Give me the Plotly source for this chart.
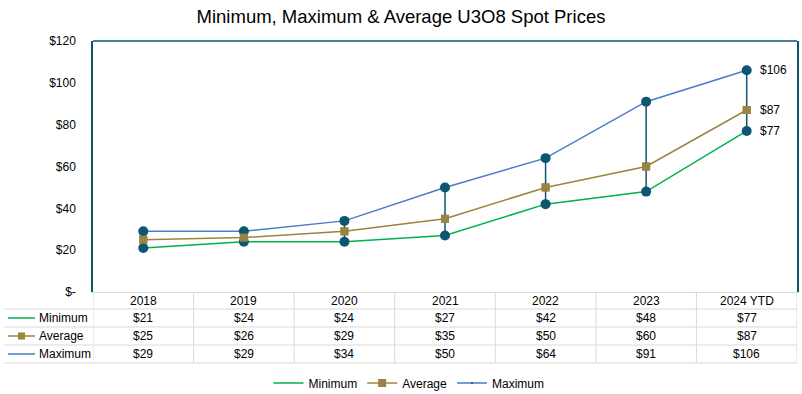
import plotly.graph_objects as go

categories = ["2018", "2019", "2020", "2021", "2022", "2023", "2024 YTD"]
minimum = [21, 24, 24, 27, 42, 48, 77]
average = [25, 26, 29, 35, 50, 60, 87]
maximum = [29, 29, 34, 50, 64, 91, 106]
y_ticks = [0, 20, 40, 60, 80, 100, 120]
y_ticktext = ["$-", "$20", "$40", "$60", "$80", "$100", "$120"]

FONT = "Liberation Sans, Arial, sans-serif"
TEAL = "#0c5672"
GREEN = "#00b050"
OLIVE = "#9b8341"
BLUE = "#4a7cc7"
GRID = "#d9d9d9"

W, H = 802, 394
L, R, T, B = 93, 5, 41, 102
PW = W - L - R
PH = H - T - B
BOTTOM = H - B


def px_x(px):
    return (px - L) / PW


def px_y(py):
    return (BOTTOM - py) / PH


xs = list(range(len(categories)))
fig = go.Figure()

# series lines (legend entries)
fig.add_trace(go.Scatter(x=xs, y=minimum, name="Minimum", mode="lines",
                         line=dict(color=GREEN, width=1.5)))
fig.add_trace(go.Scatter(x=xs, y=average, name="Average", mode="lines+markers",
                         line=dict(color=OLIVE, width=1.5),
                         marker=dict(symbol="square", size=8, color=OLIVE)))
fig.add_trace(go.Scatter(x=xs, y=maximum, name="Maximum", mode="lines+markers",
                         line=dict(color=BLUE, width=1.5),
                         marker=dict(symbol="circle", size=2, color=TEAL)))

# high-low lines
hx, hy = [], []
for i, (lo, hi) in enumerate(zip(minimum, maximum)):
    hx += [i, i, None]
    hy += [lo, hi, None]
fig.add_trace(go.Scatter(x=hx, y=hy, mode="lines", showlegend=False,
                         line=dict(color=TEAL, width=1.5), hoverinfo="skip"))

# high / low markers
fig.add_trace(go.Scatter(x=xs, y=minimum, mode="markers", showlegend=False,
                         marker=dict(symbol="circle", size=10, color=TEAL)))
fig.add_trace(go.Scatter(x=xs, y=maximum, mode="markers", showlegend=False,
                         marker=dict(symbol="circle", size=10, color=TEAL)))
fig.add_trace(go.Scatter(x=xs, y=average, mode="markers", showlegend=False,
                         marker=dict(symbol="square", size=8, color=OLIVE)))

shapes = []
annotations = []

# data labels on the last point
last = len(categories) - 1
for series in (maximum, average, minimum):
    annotations.append(dict(x=last, y=series[last], xref="x", yref="y",
                            text=f"${series[last]}", showarrow=False,
                            xanchor="left", yanchor="middle", xshift=11,
                            font=dict(family=FONT, size=12, color="#000")))

# plot area border: top (teal)
shapes.append(dict(type="line", xref="paper", yref="paper", x0=0, x1=1, y0=1, y1=1,
                   line=dict(color=TEAL, width=1.5)))

# data table grid
row_lines = [309, 327, 345, 363]
for py in row_lines:
    shapes.append(dict(type="line", xref="paper", yref="paper",
                       x0=px_x(4), x1=1, y0=px_y(py), y1=px_y(py),
                       line=dict(color=GRID, width=1)))
for xv in [i - 0.5 for i in range(len(categories) + 1)]:
    shapes.append(dict(type="line", xref="x", yref="paper",
                       x0=xv, x1=xv, y0=px_y(363), y1=0,
                       line=dict(color=GRID, width=1)))

# header row (categories)
for i, c in enumerate(categories):
    annotations.append(dict(x=i, y=px_y(300.5), xref="x", yref="paper",
                            text=c, showarrow=False, xanchor="center", yanchor="middle",
                            font=dict(family=FONT, size=12, color="#000")))

rows = [("Minimum", minimum, 318), ("Average", average, 336), ("Maximum", maximum, 354)]
for name, vals, py in rows:
    for i, v in enumerate(vals):
        annotations.append(dict(x=i, y=px_y(py), xref="x", yref="paper",
                                text=f"${v}", showarrow=False,
                                xanchor="center", yanchor="middle",
                                font=dict(family=FONT, size=12, color="#000")))
    annotations.append(dict(x=px_x(37), y=px_y(py), xref="paper", yref="paper",
                            text=name, showarrow=False, xanchor="left", yanchor="middle",
                            font=dict(family=FONT, size=12, color="#000")))

# legend keys inside the data table
shapes.append(dict(type="line", xref="paper", yref="paper", x0=px_x(8), x1=px_x(35),
                   y0=px_y(318), y1=px_y(318), line=dict(color=GREEN, width=1.5)))
shapes.append(dict(type="line", xref="paper", yref="paper", x0=px_x(8), x1=px_x(35),
                   y0=px_y(336), y1=px_y(336), line=dict(color=OLIVE, width=1.5)))
shapes.append(dict(type="rect", xref="paper", yref="paper", x0=px_x(18), x1=px_x(25),
                   y0=px_y(339.5), y1=px_y(332.5), fillcolor=OLIVE, line=dict(width=0)))
shapes.append(dict(type="line", xref="paper", yref="paper", x0=px_x(8), x1=px_x(35),
                   y0=px_y(354), y1=px_y(354), line=dict(color=BLUE, width=1.5)))

fig.update_layout(
    width=W, height=H,
    margin=dict(l=L, r=R, t=T, b=B, autoexpand=False),
    paper_bgcolor="white", plot_bgcolor="white",
    title=dict(text="Minimum, Maximum & Average U3O8 Spot Prices",
               x=0.5, xref="container", xanchor="center",
               y=1 - 17 / H, yref="container", yanchor="middle",
               font=dict(family=FONT, size=18.5, color="#000")),
    font=dict(family=FONT, size=12, color="#000"),
    xaxis=dict(range=[-0.5, last + 0.5], showticklabels=False,
               showgrid=False, zeroline=False, showline=True, linecolor=GRID,
               linewidth=1, ticks="", automargin=False, fixedrange=True),
    yaxis=dict(range=[0, 120], tickvals=y_ticks, ticktext=y_ticktext,
               showgrid=False, zeroline=False, showline=True, linecolor=TEAL,
               linewidth=1.5, mirror=True, ticks="", ticklabelstandoff=13,
               automargin=False,
               tickfont=dict(family=FONT, size=12, color="#000"), fixedrange=True),
    legend=dict(orientation="h", xref="container", yref="container",
                x=0.51, xanchor="center", y=1 - 383 / H, yanchor="middle",
                font=dict(family=FONT, size=12, color="#000"),
                itemwidth=30, bgcolor="rgba(0,0,0,0)"),
    shapes=shapes,
    annotations=annotations,
    showlegend=True,
)

fig.write_html("out.html", config={"displayModeBar": False},
               post_script="document.body.style.margin='0';document.body.style.overflow='hidden';")
